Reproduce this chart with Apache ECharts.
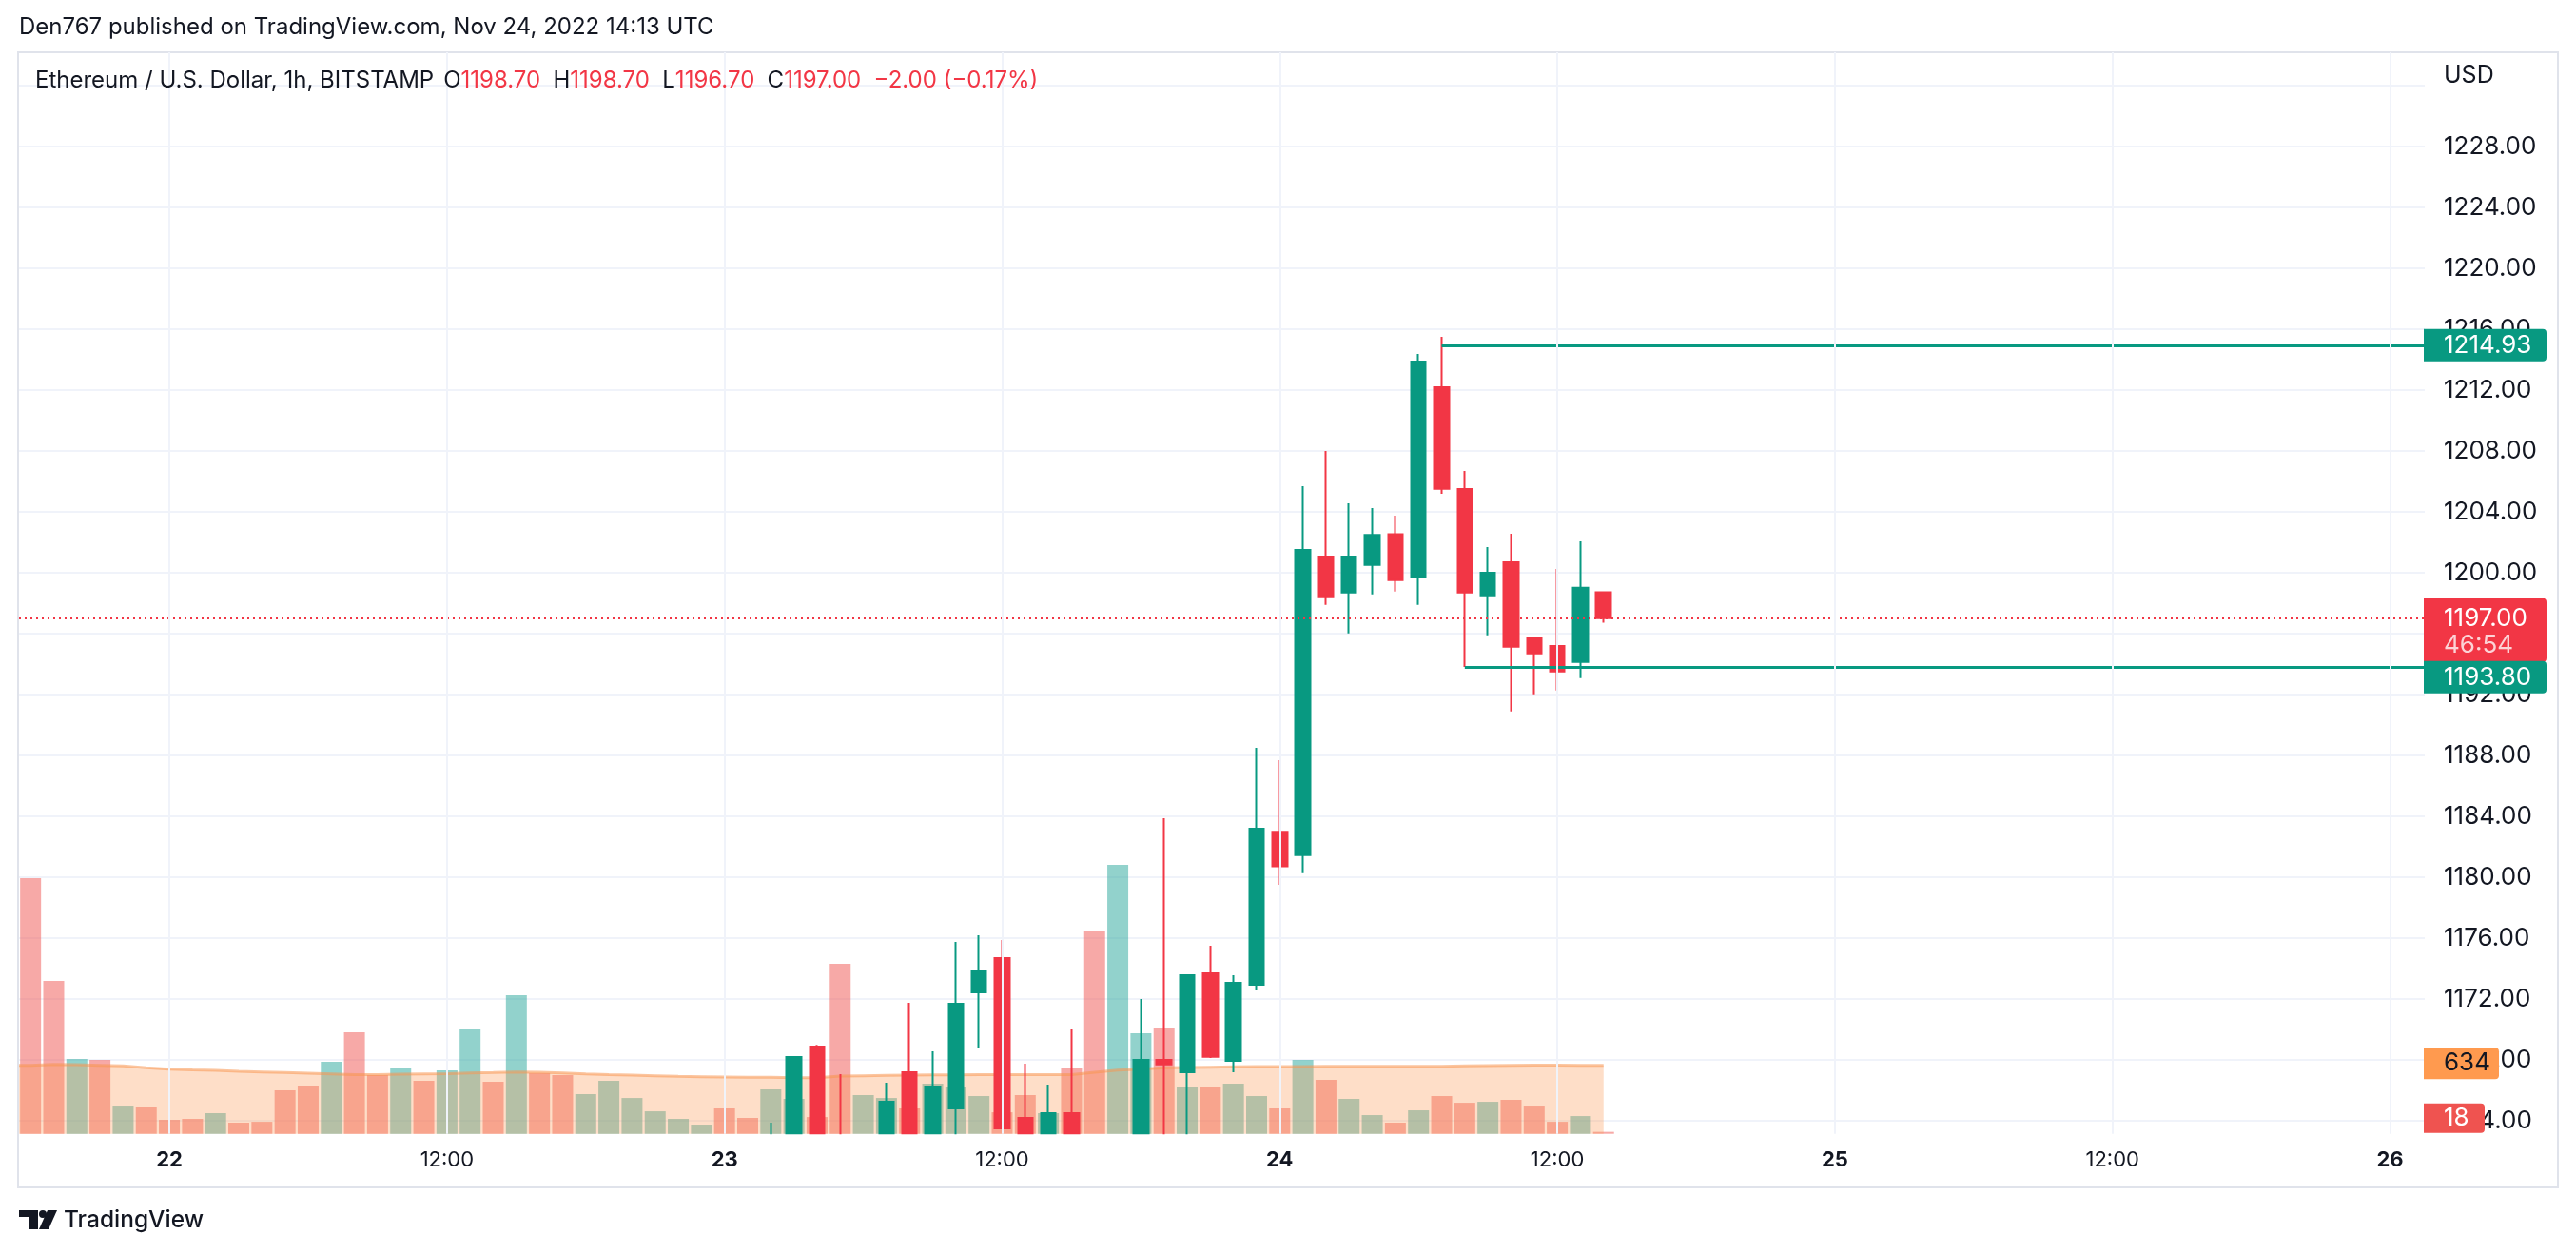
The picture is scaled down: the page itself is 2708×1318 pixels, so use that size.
<!DOCTYPE html>
<html>
<head>
<meta charset="utf-8">
<script src="https://cdn.jsdelivr.net/npm/echarts@6/dist/echarts.min.js"></script>
<style>
html,body{margin:0;padding:0;background:#fff;width:2708px;height:1318px;overflow:hidden}
#chart{width:2708px;height:1318px}
</style>
</head>
<body>
<div id="chart"></div>
<script>
// ---- DATA (hours counted from Nov 22, 00:00 UTC) ----
const hours = [-7,-6,-5,-4,-3,-2,-1,0,1,2,3,4,5,6,7,8,9,10,11,12,13,14,15,16,17,18,19,20,21,22,23,24,25,26,27,28,29,30,31,32,33,34,35,36,37,38,39,40,41,42,43,44,45,46,47,48,49,50,51,52,53,54,55,56,57,58,59,60,61,62];
const volumes = [null,2364,1414,692,683,261,252,129,138,191,103,111,402,446,666,939,543,604,490,587,974,481,1282,560,543,367,490,331,208,138,85,235,147,411,323,155,1572,358,331,235,463,428,349,199,358,191,604,1880,2487,930,983,428,437,463,349,235,683,499,323,173,103,217,349,287,296,314,261,111,164,18];
const volumeUp = [0,0,0,1,0,1,0,0,0,1,0,0,0,0,1,0,0,1,0,1,1,0,1,0,0,1,1,1,1,1,1,0,0,1,1,0,0,1,1,0,1,1,1,0,0,1,0,0,1,1,0,1,0,1,1,0,1,0,1,1,0,1,0,0,1,0,0,0,1,0];
const volumeMA = [634,634,642,639,634,628,610,598,592,587,578,572,566,560,554,548,548,551,554,557,563,566,572,569,563,554,548,543,537,531,528,525,522,522,519,519,534,537,540,543,546,546,548,548,548,548,548,569,590,598,610,613,616,619,622,622,623,625,625,625,625,625,625,628,631,634,636,636,634,634];

const candleHours = [26,27,28,29,31,32,33,34,35,36,37,38,39,42,43,44,45,46,47,48,49,50,51,52,53,54,55,56,57,58,59,60,61,62];
const opens  = [1160.2,1161.5,1168.85,1162.5,1161.5,1167.17,1162.2,1164.79,1172.42,1174.67,1164.17,1162.4,1164.48,1161.0,1167.98,1167.17,1173.67,1167.92,1172.92,1182.97,1181.44,1201.04,1198.69,1200.5,1202.52,1199.69,1212.17,1205.48,1198.5,1200.67,1195.73,1195.17,1194.13,1198.7];
const closes = [1161.9,1168.17,1161.8,1161.5,1165.23,1162.2,1166.23,1171.67,1173.85,1163.48,1162.4,1164.48,1162.0,1167.98,1167.69,1173.54,1168.19,1173.04,1183.17,1180.7,1201.48,1198.44,1201.04,1202.46,1199.5,1213.85,1205.5,1198.69,1199.98,1195.13,1194.69,1193.5,1199.0,1197.0];
const lows   = [1159.8,1160.8,1161.0,1160.5,1160.9,1161.5,1161.7,1162.5,1168.73,1163.48,1161.8,1161.9,1161.2,1160.5,1161.0,1162.0,1168.1,1167.17,1172.54,1179.48,1180.25,1197.88,1196.0,1198.56,1198.75,1197.88,1205.17,1193.8,1195.88,1190.88,1192.0,1192.25,1193.06,1196.7];
const highs  = [1163.85,1168.17,1168.96,1167.04,1166.48,1171.73,1168.54,1175.73,1176.17,1175.85,1167.73,1166.35,1169.98,1171.98,1183.86,1173.6,1175.48,1173.54,1188.48,1187.67,1205.67,1207.98,1204.54,1204.23,1203.73,1214.35,1215.48,1206.67,1201.67,1202.54,1195.73,1200.23,1202.04,1198.7];

const levelStartHours = [55,56];
const levelPrices = [1214.93,1193.80];
const lastPrice = 1197.00;
const countdown = '46:54';

const timeTicks = [0,12,24,36,48,60,72,84,96];
const timeTickLabels = ['22','12:00','23','12:00','24','12:00','25','12:00','26'];
const priceGridValues = [1164,1168,1172,1176,1180,1184,1188,1192,1196,1200,1204,1208,1212,1216,1220,1224,1228,1232];
const priceLabelValues = [1164,1168,1172,1176,1180,1184,1188,1192,1196,1200,1204,1208,1212,1216,1220,1224,1228];

const headerText = 'Den767 published on TradingView.com, Nov 24, 2022 14:13 UTC';
const symbolText = 'Ethereum / U.S. Dollar, 1h, BITSTAMP';

// ---- STYLE ----
const FONT = 'Inter, "Noto Sans", sans-serif';
const UP = '#089981', DOWN = '#F23645', TXT = '#131722', GRIDC = '#F0F3FA';
const X_MIN = -6.5, X_MAX = 97.5;
const PRICE_FONT = '26px ' + FONT;

const chart = echarts.init(document.getElementById('chart'), null, {renderer: 'canvas', width: 2708, height: 1318});

const candleData = candleHours.map((h, i) => [h, opens[i], closes[i], lows[i], highs[i]]);
const volData = [];
hours.forEach((h, i) => {
  if (volumes[i] == null) return;
  volData.push({value: [h, volumes[i]], itemStyle: {color: volumeUp[i] ? 'rgba(38,166,154,0.5)' : 'rgba(239,83,80,0.5)'}});
});
const maData = hours.map((h, i) => [h, volumeMA[i]]);

const levelLines = levelPrices.map((p, i) => [{coord: [levelStartHours[i], p]}, {coord: [X_MAX, p]}]);

chart.setOption({
  animation: false,
  backgroundColor: '#ffffff',
  grid: {left: 20, top: 55, width: 2529, height: 1136.7, containLabel: false},
  xAxis: {
    type: 'value', min: X_MIN, max: X_MAX, z: 60,
    axisLine: {show: false},
    axisTick: {show: false, customValues: timeTicks},
    axisLabel: {
      customValues: timeTicks, margin: 17, fontSize: 22, color: TXT, fontFamily: FONT,
      formatter: v => { const s = timeTickLabels[timeTicks.indexOf(v)]; return s.indexOf(':') >= 0 ? s : '{d|' + s + '}'; },
      rich: {d: {fontSize: 22, fontWeight: 'bold', color: TXT, fontFamily: FONT}}
    },
    splitLine: {show: true, lineStyle: {color: GRIDC, width: 2}}
  },
  yAxis: [{
    type: 'value', min: 1163.125, max: 1234.17, position: 'right', scale: true,
    axisLine: {show: false},
    axisTick: {show: false, customValues: priceGridValues},
    axisLabel: {customValues: priceLabelValues, margin: 20, fontSize: 26, color: TXT, fontFamily: FONT, formatter: v => v.toFixed(2)},
    splitLine: {show: true, lineStyle: {color: GRIDC, width: 2}}
  }, {
    type: 'value', min: 0, max: 10000, show: false, splitLine: {show: false}
  }],
  series: [{
    type: 'bar', xAxisIndex: 0, yAxisIndex: 1, data: volData, barWidth: 22, z: 1
  }, {
    type: 'line', xAxisIndex: 0, yAxisIndex: 1, data: maData, symbol: 'none', z: 2,
    lineStyle: {color: 'rgba(247,150,80,0.55)', width: 3},
    areaStyle: {color: 'rgba(251,155,87,0.47)', origin: 'start'}
  }, {
    type: 'candlestick', xAxisIndex: 0, yAxisIndex: 0, data: candleData,
    encode: {x: 0, y: [1, 2, 3, 4]}, barWidth: 16, z: 3,
    itemStyle: {color: UP, color0: DOWN, borderColor: UP, borderColor0: DOWN, borderWidth: 2},
    markLine: {
      silent: true, symbol: ['none', 'none'], animation: false, label: {show: false},
      lineStyle: {color: UP, width: 3, type: 'solid'},
      data: levelLines.concat([{yAxis: lastPrice, lineStyle: {color: DOWN, width: 2, type: [2, 4]}}])
    }
  }]
});

// ---- price scale badges, header, frame ----
const yP = v => chart.convertToPixel({yAxisIndex: 0}, v);
const yV = v => chart.convertToPixel({yAxisIndex: 1}, v);
const paneBottom = yP(1163.125);
const axX = 2548, txX = 2569;
const lastO = opens[opens.length - 1], lastH = highs[highs.length - 1], lastL = lows[lows.length - 1], lastC = closes[closes.length - 1];
const prevC = closes[closes.length - 2];
const chg = lastC - prevC;
const fmtSigned = v => (v < 0 ? '\u2212' : '+') + Math.abs(v).toFixed(2);
const SP0 = '   ', SP = '    ';
const legendRich = '{k|' + symbolText + '}' + SP0 + '{k|O}{v|' + lastO.toFixed(2) + '}' + SP + '{k|H}{v|' + lastH.toFixed(2) + '}' + SP + '{k|L}{v|' + lastL.toFixed(2) + '}' + SP + '{k|C}{v|' + lastC.toFixed(2) + '}' + SP + '{v|' + fmtSigned(chg) + ' (' + fmtSigned(chg / prevC * 100) + '%)}';

const g = [];
// cover for candle parts that fall below the price pane
g.push({type: 'rect', z: 40, shape: {x: 20, y: paneBottom + 0.5, width: 2530, height: 1247 - paneBottom - 0.5}, style: {fill: '#ffffff'}});
// frame
g.push({type: 'rect', z: 50, shape: {x: 19, y: 55, width: 2670, height: 1193}, style: {fill: 'none', stroke: '#E0E3EB', lineWidth: 2}});
g.push({type: 'text', z: 60, style: {x: 20, y: 29, text: headerText, fill: TXT, font: '24px ' + FONT, textVerticalAlign: 'middle'}});
g.push({type: 'text', z: 60, style: {x: 37, y: 85, text: legendRich, textVerticalAlign: 'middle',
  rich: {k: {fill: TXT, fontSize: 24, fontFamily: FONT}, v: {fill: DOWN, fontSize: 24, fontFamily: FONT}}}});
g.push({type: 'text', z: 60, style: {x: txX, y: 79, text: 'USD', fill: TXT, font: '25px ' + FONT, textVerticalAlign: 'middle'}});

// level 1 badge
const y1 = yP(levelPrices[0]);
g.push({type: 'rect', z: 100, shape: {x: axX, y: y1 - 17, width: 129, height: 34, r: [0, 4, 4, 0]}, style: {fill: UP}});
g.push({type: 'text', z: 101, style: {x: txX, y: y1, text: levelPrices[0].toFixed(2), fill: '#fff', font: PRICE_FONT, textVerticalAlign: 'middle'}});
// last price badge
const yl = yP(lastPrice);
const redTop = yl - 21, redH = 67;
g.push({type: 'rect', z: 100, shape: {x: axX, y: redTop, width: 129, height: redH, r: [0, 4, 4, 0]}, style: {fill: DOWN}});
g.push({type: 'text', z: 101, style: {x: txX, y: yl, text: lastPrice.toFixed(2), fill: '#fff', font: PRICE_FONT, textVerticalAlign: 'middle'}});
g.push({type: 'text', z: 101, style: {x: txX, y: yl + 28, text: countdown, fill: 'rgba(255,255,255,0.78)', font: PRICE_FONT, textVerticalAlign: 'middle'}});
// level 2 badge (pushed below the last-price badge)
const y2top = redTop + redH - 1;
g.push({type: 'rect', z: 100, shape: {x: axX, y: y2top, width: 129, height: 34, r: [0, 4, 4, 0]}, style: {fill: UP}});
g.push({type: 'text', z: 101, style: {x: txX, y: y2top + 17, text: levelPrices[1].toFixed(2), fill: '#fff', font: PRICE_FONT, textVerticalAlign: 'middle'}});
// volume MA badge
const lastMA = volumeMA[volumeMA.length - 1];
const ym = yV(lastMA) - 2;
g.push({type: 'rect', z: 100, shape: {x: axX, y: ym - 16.5, width: 79, height: 33, r: [0, 4, 4, 0]}, style: {fill: '#FF9A4F'}});
g.push({type: 'text', z: 101, style: {x: txX, y: ym, text: String(lastMA), fill: TXT, font: PRICE_FONT, textVerticalAlign: 'middle'}});
// last volume badge (kept inside pane)
const lastVol = volumes[volumes.length - 1];
const yvb = Math.min(yV(lastVol), paneBottom - 16.5);
g.push({type: 'rect', z: 100, shape: {x: axX, y: yvb - 15.5, width: 64, height: 31, r: [0, 4, 4, 0]}, style: {fill: '#EF5350'}});
g.push({type: 'text', z: 101, style: {x: txX, y: yvb, text: String(lastVol), fill: '#fff', font: PRICE_FONT, textVerticalAlign: 'middle'}});

// TradingView logo
g.push({type: 'rect', z: 60, shape: {x: 20, y: 1272, width: 20, height: 7}, style: {fill: TXT}});
g.push({type: 'rect', z: 60, shape: {x: 31, y: 1272, width: 9, height: 20}, style: {fill: TXT}});
g.push({type: 'circle', z: 60, shape: {cx: 45, cy: 1276, r: 4}, style: {fill: TXT}});
g.push({type: 'polygon', z: 60, shape: {points: [[50, 1272], [60, 1272], [51, 1292], [41, 1292]]}, style: {fill: TXT}});
g.push({type: 'text', z: 60, style: {x: 67, y: 1283, text: 'TradingView', fill: TXT, font: '500 24.5px ' + FONT, textVerticalAlign: 'middle'}});

chart.setOption({graphic: {elements: g}});
</script>
</body>
</html>
